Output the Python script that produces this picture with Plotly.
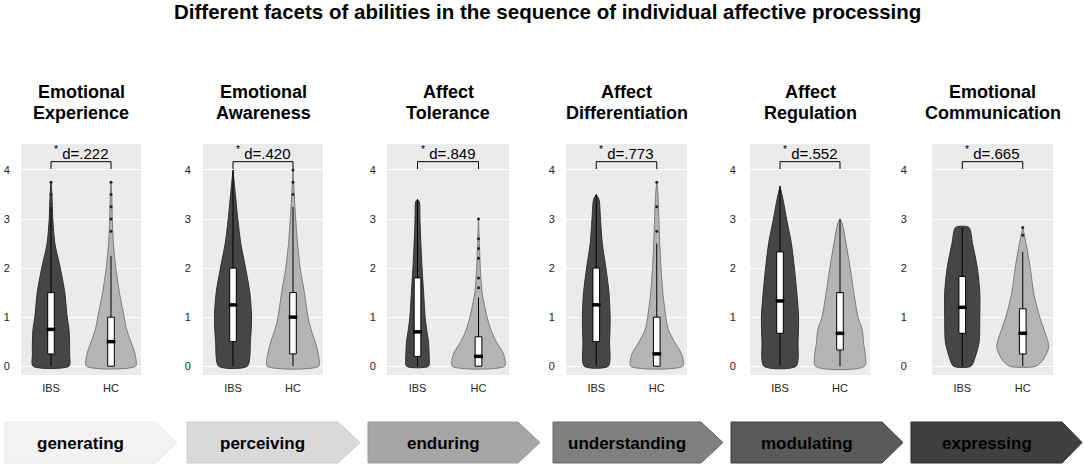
import plotly.graph_objects as go

W, H = 1084, 469
FONT = "Liberation Sans, Arial, sans-serif"

# ---------------- data ----------------
main_title = "Different facets of abilities in the sequence of individual affective processing"
title_line1 = ["Emotional", "Emotional", "Affect", "Affect", "Affect", "Emotional"]
title_line2 = ["Experience", "Awareness", "Tolerance", "Differentiation", "Regulation", "Communication"]
groups = ["IBS", "HC"]
effect_d = [".222", ".420", ".849", ".773", ".552", ".665"]
stages = ["generating", "perceiving", "enduring", "understanding", "modulating", "expressing"]
y_ticks = [0, 1, 2, 3, 4]

# violin outlines: score levels and half-widths (category units)
ibs_y = [
    [0, 0.25, 0.5, 0.75, 1, 1.5, 2, 2.5, 3, 3.5, 3.75],
    [0, 0.5, 1, 1.5, 2, 2.5, 3, 3.5, 4],
    [0, 0.25, 0.5, 0.75, 1, 1.5, 2, 2.5, 3, 3.35, 3.4],
    [0, 0.5, 1, 1.5, 2, 2.5, 3, 3.4, 3.5],
    [0, 0.5, 1, 1.5, 2, 2.5, 3, 3.4, 3.67],
    [0, 0.25, 0.5, 1, 1.5, 2, 2.5, 2.83],
]
ibs_w = [
    [0.30, 0.31, 0.31, 0.30, 0.27, 0.23, 0.155, 0.065, 0.03, 0.015, 0],
    [0.24, 0.29, 0.31, 0.28, 0.21, 0.13, 0.08, 0.04, 0],
    [0.18, 0.19, 0.18, 0.15, 0.125, 0.10, 0.075, 0.055, 0.04, 0.03, 0],
    [0.20, 0.22, 0.23, 0.21, 0.16, 0.10, 0.07, 0.045, 0],
    [0.27, 0.30, 0.31, 0.28, 0.24, 0.19, 0.11, 0.05, 0],
    [0.145, 0.23, 0.28, 0.29, 0.29, 0.25, 0.17, 0.11],
]
hc_y = [
    [0, 0.25, 0.5, 0.75, 1, 1.5, 2, 2.5, 3, 3.5, 3.75],
    [0, 0.25, 0.5, 0.75, 1, 1.5, 2, 2.5, 3, 3.5, 4],
    [0, 0.25, 0.5, 0.75, 1, 1.5, 2, 2.5, 3],
    [0, 0.25, 0.5, 0.75, 1, 1.5, 2, 2.5, 3, 3.5, 3.75],
    [0, 0.5, 0.75, 1, 1.5, 2, 2.5, 2.9, 3.0],
    [0, 0.15, 0.4, 0.75, 1, 1.5, 2, 2.5, 2.83],
]
hc_w = [
    [0.41, 0.40, 0.33, 0.26, 0.22, 0.14, 0.08, 0.04, 0.022, 0.012, 0],
    [0.43, 0.42, 0.37, 0.30, 0.25, 0.19, 0.12, 0.075, 0.045, 0.02, 0],
    [0.43, 0.41, 0.29, 0.20, 0.14, 0.06, 0.03, 0.015, 0],
    [0.43, 0.41, 0.29, 0.19, 0.15, 0.10, 0.07, 0.05, 0.035, 0.02, 0],
    [0.41, 0.39, 0.37, 0.30, 0.23, 0.17, 0.10, 0.04, 0],
    [0.22, 0.35, 0.43, 0.35, 0.28, 0.18, 0.125, 0.055, 0],
]

# box statistics
ibs_low = [0, 0, 0, 0, 0, 0]
ibs_q1 = [0.25, 0.5, 0.2, 0.5, 0.67, 0.67]
ibs_med = [0.75, 1.25, 0.7, 1.25, 1.33, 1.2]
ibs_q3 = [1.5, 2.0, 1.8, 2.0, 2.33, 1.83]
ibs_up = [3.25, 4.0, 3.4, 3.5, 3.67, 2.83]
ibs_out = [[3.5, 3.75], [], [], [], [], []]

hc_low = [0, 0, 0, 0, 0, 0]
hc_q1 = [0, 0.25, 0, 0, 0.33, 0.25]
hc_med = [0.5, 1.0, 0.2, 0.25, 0.67, 0.67]
hc_q3 = [1.0, 1.5, 0.6, 1.0, 1.5, 1.17]
hc_up = [2.25, 3.25, 1.4, 2.5, 3.0, 2.33]
hc_out = [[2.75, 3.0, 3.25, 3.5, 3.75], [3.5, 3.75, 4.0], [1.6, 1.8, 2.2, 2.4, 2.6, 3.0],
          [2.75, 3.25, 3.75], [], [2.67, 2.83]]

# ---------------- style / layout ----------------
panel_px = [(21, 141), (203, 323), (387, 509), (566, 687), (750, 870), (932, 1053)]
ytick_gap = [8, 9, 8, 8, 11, 22]
panel_top, panel_bot = 144, 375
stage_px = [(5, 155, 177), (187, 338, 360), (368, 518, 540),
            (553, 701, 723), (731, 882, 903), (911, 1062, 1082)]
stage_fill = ["#f2f2f2", "#d9d9d9", "#a6a6a6", "#808080", "#5a5a5a", "#404040"]
stage_line = ["#e6e6e6", "#cccccc", "#999999", "#6a6a6a", "#3c3c3c", "#2a2a2a"]
stage_top, stage_bot = 422, 463

ibs_fill, ibs_edge = "#464646", "#2e2e2e"
hc_fill, hc_edge = "#b4b4b4", "#7a7a7a"
box_w = 0.11
med_w = 0.145


def px(x):
    return x / W


def py(y):
    return 1 - y / H


fig = go.Figure()
layout = dict(
    width=W, height=H, margin=dict(l=0, r=0, t=0, b=0),
    paper_bgcolor="white", plot_bgcolor="#ebebeb",
    showlegend=False, font=dict(family=FONT, color="#222"),
)

annotations = []
shapes = []

for i in range(6):
    k = "" if i == 0 else str(i + 1)
    xa, ya = "x" + k, "y" + k
    x0, x1 = panel_px[i]
    layout["xaxis" + k] = dict(
        domain=[px(x0), px(x1)], range=[-0.5, 1.5], anchor=ya,
        tickvals=[0, 1], ticktext=groups, showgrid=False, zeroline=False,
        showline=False, ticks="outside", ticklen=3, tickcolor="rgba(0,0,0,0)",
        tickfont=dict(size=11, color="#222"), fixedrange=True,
    )
    layout["yaxis" + k] = dict(
        domain=[py(panel_bot), py(panel_top)], range=[-0.18, 4.53], anchor=xa,
        tickvals=y_ticks, showgrid=True, gridcolor="white", gridwidth=1,
        zeroline=False, showline=False, ticks="outside", ticklen=ytick_gap[i],
        tickcolor="rgba(0,0,0,0)", tickfont=dict(size=11, color="#222"),
        fixedrange=True,
    )

    for c, ys, ws, fillc, edge in [(0, ibs_y[i], ibs_w[i], ibs_fill, ibs_edge),
                                   (1, hc_y[i], hc_w[i], hc_fill, hc_edge)]:
        xs = [c + w for w in ws] + [c - w for w in reversed(ws)]
        yy = list(ys) + list(reversed(ys))
        xs.append(xs[0])
        yy.append(yy[0])
        fig.add_trace(go.Scatter(
            x=xs, y=yy, xaxis=xa, yaxis=ya, mode="lines", fill="toself",
            fillcolor=fillc, line=dict(color=edge, width=1, shape="spline", smoothing=0.7),
            hoverinfo="skip", zorder=0,
        ))

    for c, lo, q1, md, q3, up, outs in [
        (0, ibs_low[i], ibs_q1[i], ibs_med[i], ibs_q3[i], ibs_up[i], ibs_out[i]),
        (1, hc_low[i], hc_q1[i], hc_med[i], hc_q3[i], hc_up[i], hc_out[i]),
    ]:
        fig.add_trace(go.Box(
            x=[c], q1=[q1], median=[md], q3=[q3],
            lowerfence=[lo], upperfence=[up], width=box_w, whiskerwidth=0,
            fillcolor="white", line=dict(color="black", width=1),
            xaxis=xa, yaxis=ya, boxpoints=False, hoverinfo="skip", zorder=1,
        ))
        fig.add_trace(go.Scatter(
            x=[c - med_w / 2, c + med_w / 2], y=[md, md], xaxis=xa, yaxis=ya,
            mode="lines", line=dict(color="black", width=3.5), hoverinfo="skip", zorder=2,
        ))
        if outs:
            fig.add_trace(go.Scatter(
                x=[c] * len(outs), y=outs, xaxis=xa, yaxis=ya, mode="markers",
                marker=dict(color="#222", size=3), hoverinfo="skip", zorder=2,
            ))

    # significance bracket
    fig.add_trace(go.Scatter(
        x=[0, 0, 1, 1], y=[4.02, 4.17, 4.17, 4.02], xaxis=xa, yaxis=ya,
        mode="lines", line=dict(color="black", width=1), hoverinfo="skip", zorder=2,
    ))
    annotations.append(dict(
        x=0.5, y=4.36, xref=xa, yref=ya, showarrow=False,
        text="<sup>*</sup> d=" + effect_d[i], xanchor="center", yanchor="middle",
        font=dict(size=15, color="black", family=FONT),
    ))

    cx = px((x0 + x1) / 2)
    annotations.append(dict(
        x=cx, y=py(92), xref="paper", yref="paper", showarrow=False,
        text="<b>" + title_line1[i] + "</b>", font=dict(size=18, color="black", family=FONT),
        xanchor="center", yanchor="middle",
    ))
    annotations.append(dict(
        x=cx, y=py(112.5), xref="paper", yref="paper", showarrow=False,
        text="<b>" + title_line2[i] + "</b>", font=dict(size=18, color="black", family=FONT),
        xanchor="center", yanchor="middle",
    ))

# stage chevrons
for j, name in enumerate(stages):
    a, b, t = stage_px[j]
    ym = (stage_top + stage_bot) / 2
    path = (f"M {px(a)},{py(stage_top)} L {px(b)},{py(stage_top)} L {px(t)},{py(ym)} "
            f"L {px(b)},{py(stage_bot)} L {px(a)},{py(stage_bot)} Z")
    shapes.append(dict(type="path", path=path, xref="paper", yref="paper",
                       fillcolor=stage_fill[j], line=dict(color=stage_line[j], width=1),
                       layer="below"))
    annotations.append(dict(
        x=px((a + b) / 2), y=py(ym + 1), xref="paper", yref="paper", showarrow=False,
        text="<b>" + name + "</b>", font=dict(size=17, color="black", family=FONT),
        xanchor="center", yanchor="middle",
    ))

annotations.append(dict(
    x=px(547), y=py(12), xref="paper", yref="paper", showarrow=False,
    text="<b>" + main_title + "</b>", font=dict(size=20.5, color="black", family=FONT),
    xanchor="center", yanchor="middle",
))

layout["annotations"] = annotations
layout["shapes"] = shapes
fig.update_layout(**layout)
fig.write_html(
    "out.html",
    config={"displayModeBar": False},
    post_script="document.body.style.margin='0';document.body.style.overflow='hidden';",
)
